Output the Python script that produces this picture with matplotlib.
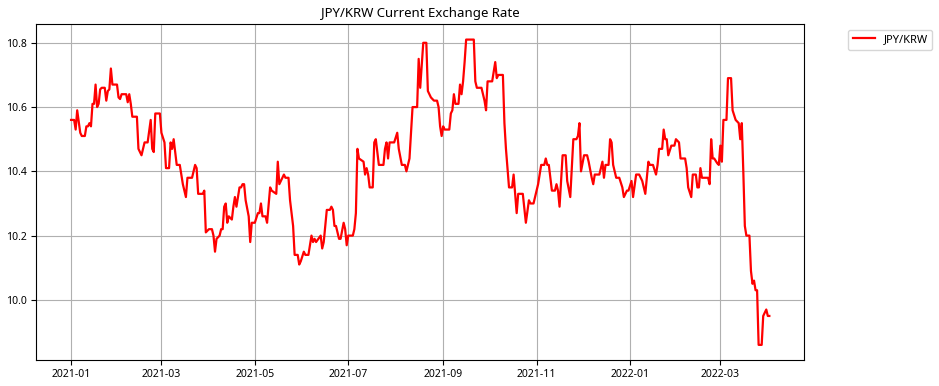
import matplotlib
matplotlib.use("Agg")

import matplotlib.dates as mdates
import matplotlib.pyplot as plt
import pandas as pd

plt.rcParams["font.family"] = ["Noto Sans", "Noto Sans CJK KR", "DejaVu Sans"]

# JPY/KRW daily rate
days_2021 = [
    "01-01", "01-03", "01-04", "01-05", "01-07", "01-08", "01-10", "01-11",
    "01-12", "01-13", "01-14", "01-15", "01-16", "01-17", "01-18", "01-19",
    "01-20", "01-21", "01-23", "01-24", "01-25", "01-26", "01-27", "01-28",
    "01-31", "02-01", "02-02", "02-03", "02-06", "02-07", "02-08", "02-09",
    "02-10", "02-13", "02-14", "02-16", "02-17", "02-18", "02-20", "02-22",
    "02-23", "02-24", "02-25", "02-28", "03-01", "03-03", "03-04", "03-06",
    "03-07", "03-08", "03-09", "03-11", "03-13", "03-15", "03-17", "03-18",
    "03-21", "03-23", "03-24", "03-25", "03-28", "03-29", "03-30", "04-01",
    "04-03", "04-04", "04-05", "04-06", "04-08", "04-09", "04-10", "04-11",
    "04-12", "04-13", "04-14", "04-16", "04-17", "04-18", "04-19", "04-21",
    "04-22", "04-23", "04-24", "04-25", "04-27", "04-28", "04-29", "05-01",
    "05-03", "05-04", "05-05", "05-06", "05-08", "05-09", "05-11", "05-12",
    "05-15", "05-16", "05-17", "05-18", "05-20", "05-21", "05-23", "05-24",
    "05-26", "05-27", "05-29", "05-30", "05-31", "06-02", "06-03", "06-05",
    "06-07", "06-08", "06-09", "06-10", "06-13", "06-14", "06-15", "06-17",
    "06-19", "06-20", "06-21", "06-22", "06-23", "06-25", "06-26", "06-28",
    "06-29", "06-30", "07-01", "07-04", "07-05", "07-06", "07-07", "07-08",
    "07-11", "07-12", "07-13", "07-14", "07-15", "07-17", "07-18", "07-19",
    "07-21", "07-24", "07-25", "07-26", "07-27", "07-28", "07-31", "08-02",
    "08-03", "08-05", "08-07", "08-08", "08-10", "08-12", "08-15", "08-16",
    "08-17", "08-19", "08-21", "08-22", "08-24", "08-26", "08-28", "08-29",
    "08-30", "08-31", "09-01", "09-02", "09-05", "09-06", "09-07", "09-08",
    "09-09", "09-11", "09-12", "09-13", "09-14", "09-15", "09-16", "09-21",
    "09-22", "09-23", "09-26", "09-27", "09-28", "09-29", "09-30", "10-03",
    "10-05", "10-06", "10-07", "10-10", "10-11", "10-12", "10-14", "10-16",
    "10-17", "10-19", "10-20", "10-23", "10-25", "10-27", "10-28", "10-30",
    "11-02", "11-04", "11-06", "11-07", "11-08", "11-09", "11-11", "11-13",
    "11-14", "11-15", "11-16", "11-18", "11-20", "11-21", "11-23", "11-25",
    "11-27", "11-28", "11-29", "11-30", "12-02", "12-04", "12-05", "12-07",
    "12-08", "12-09", "12-12", "12-14", "12-15", "12-16", "12-18", "12-19",
    "12-20", "12-21", "12-23", "12-25", "12-27", "12-28", "12-30", "12-31",
]
rates_2021 = [
    10.56, 10.56, 10.53, 10.59, 10.52, 10.51, 10.51, 10.54,
    10.54, 10.55, 10.54, 10.61, 10.61, 10.67, 10.60, 10.61,
    10.655, 10.66, 10.66, 10.62, 10.65, 10.655, 10.72, 10.67,
    10.67, 10.63, 10.625, 10.64, 10.64, 10.615, 10.64, 10.61,
    10.57, 10.57, 10.47, 10.45, 10.47, 10.49, 10.49, 10.56,
    10.47, 10.46, 10.58, 10.58, 10.52, 10.49, 10.41, 10.41,
    10.49, 10.47, 10.50, 10.42, 10.42, 10.36, 10.32, 10.38,
    10.38, 10.42, 10.41, 10.33, 10.33, 10.34, 10.21, 10.22,
    10.22, 10.20, 10.15, 10.19, 10.20, 10.22, 10.22, 10.29,
    10.30, 10.24, 10.26, 10.25, 10.29, 10.32, 10.29, 10.35,
    10.35, 10.36, 10.36, 10.31, 10.26, 10.18, 10.24, 10.24,
    10.27, 10.27, 10.30, 10.26, 10.26, 10.24, 10.35, 10.34,
    10.33, 10.43, 10.36, 10.37, 10.39, 10.38, 10.38, 10.31,
    10.23, 10.14, 10.14, 10.11, 10.12, 10.15, 10.14, 10.14,
    10.20, 10.18, 10.19, 10.18, 10.20, 10.16, 10.18, 10.28,
    10.28, 10.29, 10.28, 10.23, 10.23, 10.19, 10.19, 10.24,
    10.22, 10.17, 10.20, 10.20, 10.22, 10.27, 10.47, 10.44,
    10.43, 10.39, 10.41, 10.39, 10.35, 10.35, 10.49, 10.50,
    10.42, 10.42, 10.47, 10.49, 10.44, 10.49, 10.49, 10.52,
    10.47, 10.42, 10.42, 10.40, 10.44, 10.60, 10.60, 10.75,
    10.66, 10.80, 10.80, 10.65, 10.63, 10.62, 10.62, 10.60,
    10.54, 10.51, 10.54, 10.53, 10.53, 10.58, 10.59, 10.64,
    10.61, 10.61, 10.67, 10.64, 10.68, 10.74, 10.81, 10.81,
    10.68, 10.66, 10.66, 10.64, 10.62, 10.59, 10.68, 10.68,
    10.74, 10.69, 10.70, 10.70, 10.55, 10.47, 10.35, 10.35,
    10.39, 10.27, 10.33, 10.33, 10.24, 10.31, 10.30, 10.30,
    10.36, 10.42, 10.42, 10.44, 10.42, 10.42, 10.34, 10.34,
    10.36, 10.34, 10.29, 10.45, 10.45, 10.37, 10.32, 10.50,
    10.50, 10.51, 10.55, 10.40, 10.45, 10.45, 10.43, 10.38,
    10.36, 10.39, 10.39, 10.43, 10.38, 10.42, 10.42, 10.50,
    10.49, 10.42, 10.38, 10.38, 10.35, 10.32, 10.34, 10.34,
]

days_2022 = [
    "01-02", "01-03", "01-05", "01-07", "01-09", "01-11", "01-13", "01-14",
    "01-16", "01-18", "01-19", "01-20", "01-22", "01-23", "01-24", "01-25",
    "01-26", "01-28", "01-30", "01-31", "02-02", "02-03", "02-06", "02-07",
    "02-08", "02-10", "02-11", "02-13", "02-14", "02-15", "02-16", "02-17",
    "02-21", "02-22", "02-23", "02-24", "02-25", "02-27", "02-28", "03-01",
    "03-02", "03-03", "03-05", "03-06", "03-08", "03-09", "03-11", "03-13",
    "03-14", "03-15", "03-16", "03-17", "03-18", "03-20", "03-21", "03-22",
    "03-23", "03-24", "03-25", "03-26", "03-28", "03-29", "03-31", "04-01",
    "04-02",
]
rates_2022 = [
    10.37, 10.32, 10.39, 10.39, 10.37, 10.33, 10.43, 10.42,
    10.42, 10.39, 10.42, 10.47, 10.47, 10.53, 10.50, 10.50,
    10.45, 10.48, 10.48, 10.50, 10.49, 10.44, 10.44, 10.41,
    10.35, 10.32, 10.39, 10.39, 10.35, 10.35, 10.41, 10.38,
    10.38, 10.36, 10.50, 10.44, 10.44, 10.425, 10.42, 10.48,
    10.43, 10.56, 10.56, 10.69, 10.69, 10.59, 10.56, 10.55,
    10.50, 10.55, 10.40, 10.23, 10.20, 10.20, 10.09, 10.05,
    10.06, 10.03, 10.03, 9.86, 9.86, 9.95, 9.97, 9.95,
    9.95,
]

dates = pd.to_datetime(
    ["2021-" + d for d in days_2021] + ["2022-" + d for d in days_2022]
)
rates = rates_2021 + rates_2022

fig = plt.figure(figsize=(9.39, 3.86), dpi=100)
ax = fig.add_axes([0.0385, 0.067, 0.818, 0.870])

ax.plot(dates, rates, color="red", linewidth=1.6, label="JPY/KRW")

ax.set_title("JPY/KRW Current Exchange Rate", fontsize=9.5, pad=5)
ax.grid(True, color="#b0b0b0", linewidth=0.8)
ax.xaxis.set_major_locator(mdates.MonthLocator(bymonth=[1, 3, 5, 7, 9, 11]))
ax.xaxis.set_major_formatter(mdates.DateFormatter("%Y-%m"))
ax.tick_params(labelsize=7.5, pad=3)

ax.legend(
    bbox_to_anchor=(1.05, 1), loc="upper left", fontsize=8
)

fig.savefig("out.png", dpi=100)
